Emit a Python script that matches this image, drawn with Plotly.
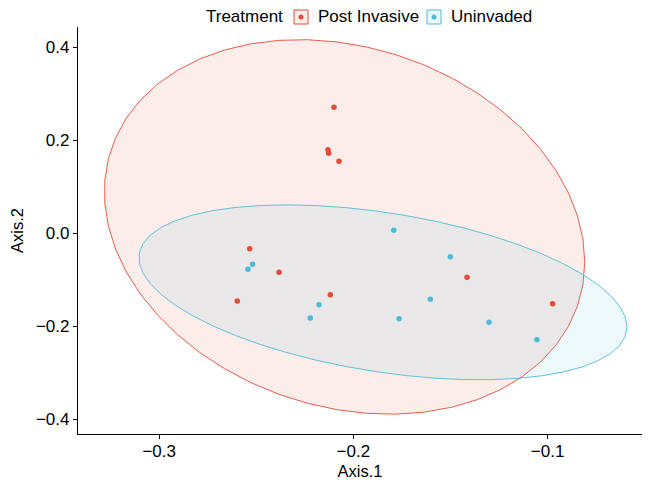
import numpy as np
import plotly.graph_objects as go

# ---- data ----
groups = ["Post Invasive", "Uninvaded"]
colors = ["#E64B35", "#4DBBD5"]
fills = ["rgba(230,75,53,0.1)", "rgba(77,187,213,0.1)"]

post_x = [-0.2100, -0.2131, -0.2127, -0.2074, -0.2534, -0.2383, -0.2598, -0.2119, -0.1415, -0.0974]
post_y = [0.2712, 0.1799, 0.1722, 0.1550, -0.0331, -0.0839, -0.1457, -0.1322, -0.0947, -0.1515]
unin_x = [-0.1792, -0.2519, -0.2543, -0.2177, -0.2222, -0.1765, -0.1501, -0.1604, -0.1302, -0.1055]
unin_y = [0.0065, -0.0667, -0.0775, -0.1537, -0.1823, -0.1838, -0.0504, -0.1421, -0.1916, -0.2290]

x_ticks = [-0.3, -0.2, -0.1]
y_ticks = [-0.4, -0.2, 0.0, 0.2, 0.4]
x_title = "Axis.1"
y_title = "Axis.2"
legend_title = "Treatment"
ellipse_level = 0.905


def stat_ellipse_norm(xs, ys, level=0.95, segments=51):
    """Normal-theory data ellipse (as ggplot2 stat_ellipse(type = 'norm'))."""
    pts = np.column_stack([xs, ys])
    n = len(xs)
    dfn, dfd = 2, n - 1
    center = pts.mean(0)
    shape = np.cov(pts, rowvar=False)
    fq = (dfd / 2.0) * ((1 - level) ** (-2.0 / dfd) - 1)  # qf(level, 2, dfd)
    radius = np.sqrt(dfn * fq)
    ang = np.arange(segments + 1) * 2 * np.pi / segments
    circ = np.column_stack([np.cos(ang), np.sin(ang)])
    R = np.linalg.cholesky(shape).T
    e = center + radius * (circ @ R)
    return e[:, 0], e[:, 1]


fig = go.Figure()
data = [(post_x, post_y), (unin_x, unin_y)]
for (xs, ys), c, f, g in zip(data, colors, fills, groups):
    ex, ey = stat_ellipse_norm(np.array(xs), np.array(ys), level=ellipse_level)
    fig.add_trace(go.Scatter(x=ex, y=ey, mode="lines", fill="toself", fillcolor=f,
                             line=dict(color=c, width=0.9), hoverinfo="skip",
                             showlegend=False, name=g))
for (xs, ys), c, g in zip(data, colors, groups):
    fig.add_trace(go.Scatter(x=xs, y=ys, mode="markers", name=g,
                             marker=dict(color=c, size=5.5), showlegend=False))

W, H = 648, 487
ml, mr, mt, mb = 78, 6, 27, 53
pw, ph = W - ml - mr, H - mt - mb


def px2paper_x(px):
    return (px - ml) / pw


def py2paper_y(py):
    return (H - mb - py) / ph


font = "Liberation Sans, Arial, Helvetica, sans-serif"
annotations = [dict(text=legend_title, x=px2paper_x(204), y=py2paper_y(17), xref="paper", yref="paper",
                    xanchor="left", yanchor="middle", showarrow=False, font=dict(size=17, color="black"))]
shapes = []
key_cx = [301, 434]
text_x = [316, 449]
for g, c, f, kx, tx in zip(groups, colors, fills, key_cx, text_x):
    shapes.append(dict(type="rect", xref="paper", yref="paper",
                       x0=px2paper_x(kx - 7), x1=px2paper_x(kx + 7),
                       y0=py2paper_y(10), y1=py2paper_y(24),
                       line=dict(color=c, width=1), fillcolor=f, layer="above"))
    shapes.append(dict(type="circle", xref="paper", yref="paper",
                       x0=px2paper_x(kx - 2.5), x1=px2paper_x(kx + 2.5),
                       y0=py2paper_y(14.5), y1=py2paper_y(19.5),
                       line=dict(color=c, width=0), fillcolor=c, layer="above"))
    annotations.append(dict(text=g, x=px2paper_x(tx), y=py2paper_y(17), xref="paper", yref="paper",
                            xanchor="left", yanchor="middle", showarrow=False,
                            font=dict(size=17, color="black")))

fig.update_layout(
    width=W, height=H,
    margin=dict(l=ml, r=mr, t=mt, b=mb),
    paper_bgcolor="white", plot_bgcolor="white",
    font=dict(family=font, size=17, color="black"),
    showlegend=False,
    annotations=annotations, shapes=shapes,
    xaxis=dict(range=[-0.3418, -0.0514], tickvals=x_ticks, ticktext=["\u22120.3", "\u22120.2", "\u22120.1"],
               showgrid=False, zeroline=False, showline=True, linecolor="black", linewidth=1.2,
               ticks="outside", ticklen=4, tickcolor="black", tickwidth=1.2,
               ticklabelstandoff=-3,
               title=dict(text=x_title, font=dict(size=16.5), standoff=5)),
    yaxis=dict(range=[-0.432, 0.444], tickvals=y_ticks,
               ticktext=["\u22120.4", "\u22120.2", "0.0", "0.2", "0.4"],
               showgrid=False, zeroline=False, showline=True, linecolor="black", linewidth=1.2,
               ticks="outside", ticklen=4, tickcolor="black", tickwidth=1.2,
               title=dict(text=y_title, font=dict(size=16.5), standoff=8)),
)

fig.write_html("out.html")
